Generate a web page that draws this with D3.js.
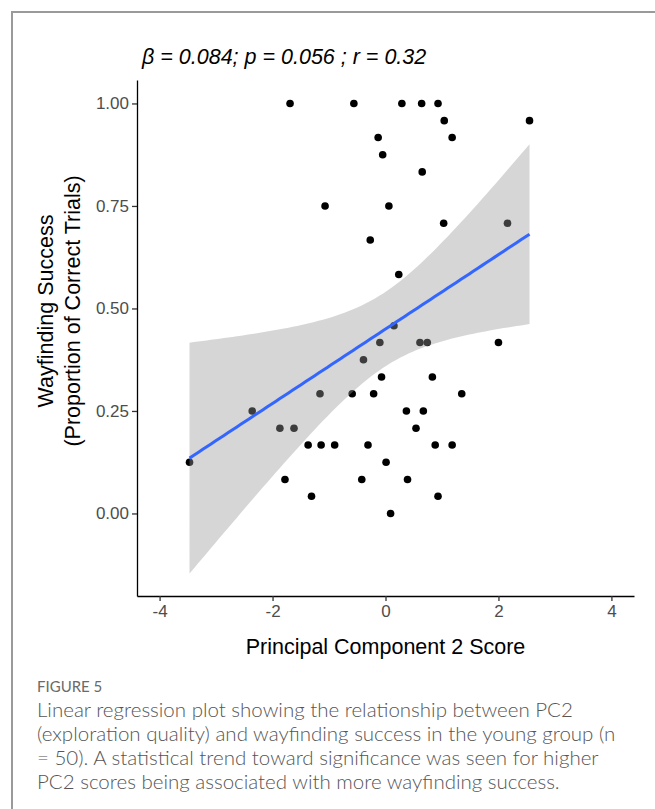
<!DOCTYPE html>
<html>
<head>
<meta charset="utf-8">
<script src="https://cdn.jsdelivr.net/npm/d3@7"></script>
<style>
  body { margin: 0; background: #fff; }
  svg { display: block; }
</style>
</head>
<body>
<div id="chart"></div>
<script>
// PC2 score per participant
const pc2 = [
  -1.69, -0.56, 0.29, 0.64, 0.93, 1.04, 2.55, -0.13, 1.18, -0.05,
  0.65, -1.07, 0.06, 1.03, 2.16, -0.27, 0.235, 0.15, -0.10, 0.61,
  0.74, 2.00, -0.39, -0.07, 0.83, -1.16, -0.59, -0.21, 1.35, -2.36,
  0.37, 0.67, -1.87, -1.62, 0.54, -1.37, -1.14, -0.90, -0.31, 0.88,
  1.18, -3.47, 0.01, -1.78, -0.42, 0.39, -1.31, 0.93, 0.09
]
// proportion of correct trials (out of 24)
const success = [
  1.000, 1.000, 1.000, 1.000, 1.000, 0.958, 0.958, 0.917, 0.917, 0.875,
  0.833, 0.750, 0.750, 0.708, 0.708, 0.667, 0.583, 0.458, 0.417, 0.417,
  0.417, 0.417, 0.375, 0.333, 0.333, 0.292, 0.292, 0.292, 0.292, 0.250,
  0.250, 0.250, 0.208, 0.208, 0.208, 0.167, 0.167, 0.167, 0.167, 0.167,
  0.167, 0.125, 0.125, 0.083, 0.083, 0.083, 0.042, 0.042, 0.000
]
const xTicks = [-4, -2, 0, 2, 4]
const yTicks = [0, 0.25, 0.5, 0.75, 1]
const title = 'β = 0.084; p = 0.056 ; r = 0.32'
const captionHead = 'FIGURE 5'
const captionLines = [
  'Linear regression plot showing the relationship between PC2',
  '(exploration quality) and wayfinding success in the young group (n',
  '= 50). A statistical trend toward significance was seen for higher',
  'PC2 scores being associated with more wayfinding success.'
]

const W = 655, H = 809
const margin = { top: 80, left: 137, right: 21, bottom: 213 }

var svg = d3.select('#chart')
  .append('svg')
  .attr('width', W)
  .attr('height', H)

// frame of the figure panel
svg.append('path')
  .attr('d', 'M12,' + H + ' V12 H' + W)
  .attr('fill', 'none')
  .attr('stroke', '#9a9a9a')
  .attr('stroke-width', 2)

var x = d3.scaleLinear().domain([-4.4, 4.4]).range([margin.left, W - margin.right])
var y = d3.scaleLinear().domain([-0.2013, 1.0572]).range([H - margin.bottom, margin.top])

// linear fit + 95% confidence band
var data = pc2.map(function(d, i) { return { x: d, y: success[i] } })
var n = data.length
var mx = d3.mean(pc2), my = d3.mean(success)
var sxx = d3.sum(pc2, function(d) { return (d - mx) * (d - mx) })
var sxy = d3.sum(data, function(d) { return (d.x - mx) * (d.y - my) })
var slope = sxy / sxx
var icpt = my - slope * mx
var rss = d3.sum(data, function(d) { var r = d.y - (icpt + slope * d.x); return r * r })
var s2 = rss / (n - 2)
var tcrit = 2.012
var xMin = d3.min(pc2), xMax = d3.max(pc2)
var fit = d3.range(80).map(function(i) {
  var xv = xMin + (xMax - xMin) * i / 79
  var yv = icpt + slope * xv
  var se = Math.sqrt(s2 * (1 / n + (xv - mx) * (xv - mx) / sxx))
  return { x: xv, y: yv, lo: yv - tcrit * se, hi: yv + tcrit * se }
})

// points
svg.append('g')
  .selectAll('circle')
  .data(data)
  .enter()
  .append('circle')
  .attr('cx', function(d) { return x(d.x) })
  .attr('cy', function(d) { return y(d.y) })
  .attr('r', 3.8)
  .attr('fill', '#000')

// band drawn over points like ggplot does
svg.append('path')
  .datum(fit)
  .attr('d', d3.area()
    .x(function(d) { return x(d.x) })
    .y0(function(d) { return y(d.lo) })
    .y1(function(d) { return y(d.hi) }))
  .attr('fill', '#999999')
  .attr('fill-opacity', 0.4)

svg.append('path')
  .datum(fit)
  .attr('d', d3.line()
    .x(function(d) { return x(d.x) })
    .y(function(d) { return y(d.y) }))
  .attr('fill', 'none')
  .attr('stroke', '#3366FF')
  .attr('stroke-width', 3)

// axes
var xAxis = svg.append('g')
  .attr('transform', 'translate(0,' + (H - margin.bottom) + ')')
  .call(d3.axisBottom(x).tickValues(xTicks).tickFormat(d3.format('d')).tickSize(5).tickSizeOuter(0).tickPadding(4))
var yAxis = svg.append('g')
  .attr('transform', 'translate(' + margin.left + ',0)')
  .call(d3.axisLeft(y).tickValues(yTicks).tickFormat(d3.format('.2f')).tickSize(5).tickSizeOuter(0).tickPadding(3))

;[xAxis, yAxis].forEach(function(g) {
  g.select('.domain').attr('stroke', '#000').attr('stroke-width', 1.3)
  g.selectAll('.tick line').attr('stroke', '#333').attr('stroke-width', 1.3)
  g.selectAll('.tick text')
    .attr('fill', '#4d4d4d')
    .attr('font-family', 'Liberation Sans, Arial, sans-serif')
    .attr('font-size', 17)
})
xAxis.selectAll('.tick text').text(function(d) { return d < 0 ? '-' + Math.abs(d) : d })

// titles
svg.append('text')
  .attr('x', 142)
  .attr('y', 64)
  .attr('font-family', 'Liberation Sans, Arial, sans-serif')
  .attr('font-style', 'italic')
  .attr('font-size', 21.5)
  .attr('fill', '#000')
  .text(title)

svg.append('text')
  .attr('x', (margin.left + W - margin.right) / 2)
  .attr('y', 654)
  .attr('text-anchor', 'middle')
  .attr('font-family', 'Liberation Sans, Arial, sans-serif')
  .attr('font-size', 21.5)
  .attr('fill', '#000')
  .text('Principal Component 2 Score')

var yTitle = svg.append('text')
  .attr('transform', 'translate(52.5,311) rotate(-90)')
  .attr('text-anchor', 'middle')
  .attr('font-family', 'Liberation Sans, Arial, sans-serif')
  .attr('font-size', 21.5)
  .attr('fill', '#000')
yTitle.append('tspan').attr('x', 0).attr('y', 0).text('Wayfinding Success')
yTitle.append('tspan').attr('x', 0).attr('y', 27.5).text('(Proportion of Correct Trials)')

// caption
svg.append('text')
  .attr('x', 37)
  .attr('y', 692)
  .attr('font-family', 'Lato, Open Sans, sans-serif')
  .attr('font-size', 15)
  .attr('fill', '#6a6a6a')
  .text(captionHead)

svg.append('g')
  .selectAll('text')
  .data(captionLines)
  .enter()
  .append('text')
  .attr('x', 37)
  .attr('y', function(d, i) { return 717 + i * 24 })
  .attr('font-family', 'Lato, Open Sans, sans-serif')
  .attr('font-weight', 300)
  .attr('font-size', 20.5)
  .attr('fill', '#555')
  .text(function(d) { return d })
</script>
</body>
</html>
